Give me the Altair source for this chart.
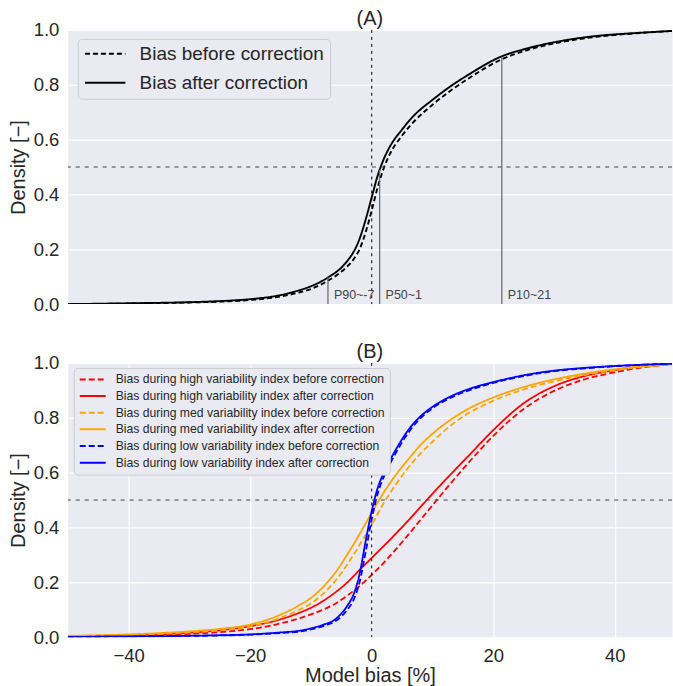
import altair as alt
import pandas as pd

FONT = "Liberation Sans"
TXT = "#262626"

# ---------------- Panel A data ----------------
BIAS_A = [-50, -40, -30, -25, -20, -15, -12, -10, -7, -5, -4, -3, -2, -1, 0,
          1, 2, 3, 5, 7, 10, 13, 16, 21, 26, 32, 37, 43, 50]
A_BEFORE = [0.0, 0.002, 0.006, 0.009, 0.015, 0.028, 0.042, 0.055, 0.088, 0.118,
            0.138, 0.163, 0.2, 0.262, 0.342, 0.428, 0.497, 0.548, 0.615, 0.667, 0.727,
            0.779, 0.824, 0.889, 0.929, 0.959, 0.975, 0.987, 0.997]
A_AFTER = [0.0, 0.003, 0.007, 0.011, 0.018, 0.033, 0.05, 0.065, 0.1, 0.133,
           0.158, 0.19, 0.238, 0.308, 0.39, 0.47, 0.53, 0.575, 0.637, 0.689, 0.745,
           0.795, 0.838, 0.9, 0.935, 0.963, 0.978, 0.988, 0.997]
A_SERIES = ["Bias before correction", "Bias after correction"]

P_LABELS = ["P90~-7", "P50~1", "P10~21"]
P_X = [-7.2, 1.3, 21.4]
P_TOP = [0.1, 0.49, 0.9]
P_TEXT_Y = [0.035, 0.035, 0.035]

# ---------------- Panel B data ----------------
BIAS_B = [-50, -40, -30, -25, -20, -15, -12, -10, -8, -6, -4, -3, -2, -1, 0,
          1, 2, 3, 4, 6, 8, 10, 13, 16, 20, 25, 30, 35, 40, 45, 50]
HIGH_BEFORE = [0.002, 0.005, 0.012, 0.018, 0.029, 0.05, 0.068, 0.083, 0.1, 0.122,
               0.152, 0.168, 0.186, 0.206, 0.227, 0.249, 0.272, 0.296, 0.321, 0.373,
               0.427, 0.481, 0.561, 0.638, 0.734, 0.832, 0.898, 0.94, 0.966, 0.985, 0.996]
HIGH_AFTER = [0.003, 0.007, 0.016, 0.025, 0.04, 0.065, 0.088, 0.107, 0.132, 0.163,
              0.2, 0.222, 0.245, 0.267, 0.289, 0.311, 0.333, 0.355, 0.378, 0.425,
              0.474, 0.523, 0.594, 0.663, 0.755, 0.853, 0.915, 0.952, 0.974, 0.989, 0.997]
MED_BEFORE = [0.004, 0.008, 0.017, 0.025, 0.039, 0.07, 0.099, 0.123, 0.158, 0.205,
              0.266, 0.3, 0.336, 0.373, 0.41, 0.45, 0.49, 0.525, 0.558, 0.618,
              0.669, 0.713, 0.772, 0.818, 0.862, 0.903, 0.933, 0.956, 0.974, 0.987, 0.995]
MED_AFTER = [0.005, 0.01, 0.021, 0.03, 0.046, 0.082, 0.115, 0.143, 0.183, 0.235,
             0.302, 0.338, 0.376, 0.415, 0.454, 0.492, 0.528, 0.562, 0.593, 0.648,
             0.7, 0.742, 0.793, 0.834, 0.874, 0.912, 0.94, 0.961, 0.977, 0.989, 0.996]
LOW_BEFORE = [0.001, 0.002, 0.004, 0.006, 0.009, 0.015, 0.02, 0.028, 0.04, 0.058,
              0.1, 0.135, 0.2, 0.31, 0.43, 0.525, 0.585, 0.632, 0.673, 0.745,
              0.798, 0.835, 0.873, 0.9, 0.927, 0.952, 0.97, 0.98, 0.988, 0.994, 0.998]
LOW_AFTER = [0.001, 0.002, 0.005, 0.007, 0.01, 0.017, 0.023, 0.032, 0.045, 0.065,
             0.115, 0.155, 0.23, 0.35, 0.46, 0.545, 0.6, 0.645, 0.685, 0.755,
             0.805, 0.84, 0.878, 0.905, 0.93, 0.955, 0.972, 0.982, 0.989, 0.994, 0.998]
B_SERIES = [
    "Bias during high variability index before correction",
    "Bias during high variability index after correction",
    "Bias during med variability index before correction",
    "Bias during med variability index after correction",
    "Bias during low variability index before correction",
    "Bias during low variability index after correction",
]
B_COLORS = ["#FF0000", "#FF0000", "#FFA500", "#FFA500", "#0000FF", "#0000FF"]
B_VALUES = [HIGH_BEFORE, HIGH_AFTER, MED_BEFORE, MED_AFTER, LOW_BEFORE, LOW_AFTER]

X_TICKS = [-40, -20, 0, 20, 40]
Y_TICKS = [0.0, 0.2, 0.4, 0.6, 0.8, 1.0]
X_DOMAIN = [-50, 49.4]

# ---------------- tables ----------------
rows_a = []
for s, vals in zip(A_SERIES, [A_BEFORE, A_AFTER]):
    for b, d in zip(BIAS_A, vals):
        rows_a.append({"sa": s, "bias": b, "density": d})
df_a = pd.DataFrame(rows_a)

rows_b = []
for s, vals in zip(B_SERIES, B_VALUES):
    for b, d in zip(BIAS_B, vals):
        rows_b.append({"sb": s, "bias": b, "density": d})
df_b = pd.DataFrame(rows_b)

df_p = pd.DataFrame({"label": P_LABELS, "px": P_X, "top": P_TOP, "ty": P_TEXT_Y, "zero": [0, 0, 0]})
df_v = pd.DataFrame({"vx": [0]})
df_h = pd.DataFrame({"hy": [0.5]})

xscale = alt.Scale(domain=X_DOMAIN, nice=False, zero=False)
yscale = alt.Scale(domain=[0, 1], nice=False)

W, H = 606, 275


def yaxis():
    return alt.Axis(values=Y_TICKS, format=".1f", title="Density [−]", ticks=False, domain=False,
                    labelPadding=9, titlePadding=5)


def xaxis():
    return alt.Axis(values=X_TICKS, title="Model bias [%]", ticks=False, domain=False,
                    labelPadding=9, titlePadding=1)


# ---------------- Panel A ----------------
leg_a = alt.Legend(orient="none", legendX=10, legendY=9, title=None, symbolType="stroke",
                   symbolSize=1640, symbolStrokeWidth=2, labelFontSize=19, labelFont=FONT,
                   labelColor=TXT, fillColor="#EAEAF2", strokeColor="#CCCCCC", cornerRadius=4,
                   padding=6, rowPadding=10, labelOffset=13, clipHeight=18, labelLimit=400)

lines_a = alt.Chart(df_a).mark_line(strokeWidth=1.9, interpolate="monotone", clip=True).encode(
    x=alt.X("bias:Q", scale=xscale, axis=None),
    y=alt.Y("density:Q", scale=yscale, axis=yaxis()),
    color=alt.Color("sa:N", scale=alt.Scale(domain=A_SERIES, range=["black", "black"]),
                    legend=leg_a),
    strokeDash=alt.StrokeDash("sa:N", scale=alt.Scale(domain=A_SERIES, range=[[5, 3], [1, 0]]),
                              legend=leg_a),
)

vline_a = alt.Chart(df_v).mark_rule(color="black", strokeWidth=1, strokeDash=[3, 4]).encode(
    x=alt.X("vx:Q", scale=xscale, axis=None))
hline_a = alt.Chart(df_h).mark_rule(color="#444444", strokeWidth=1, strokeDash=[4, 5]).encode(
    y=alt.Y("hy:Q", scale=yscale, axis=yaxis()))
prules = alt.Chart(df_p).mark_rule(color="#666666", strokeWidth=1.2).encode(
    x=alt.X("px:Q", scale=xscale, axis=None), y=alt.Y("zero:Q", scale=yscale, axis=yaxis()),
    y2="top:Q")
ptext = alt.Chart(df_p).mark_text(align="left", baseline="middle", dx=6, font=FONT, fontSize=12.5,
                                  color="#444444").encode(
    x=alt.X("px:Q", scale=xscale, axis=None), y=alt.Y("ty:Q", scale=yscale, axis=yaxis()),
    text="label:N")

panel_a = alt.layer(lines_a, hline_a, vline_a, prules, ptext).properties(
    width=W, height=H, title=alt.TitleParams("(A)", font=FONT, fontSize=20, fontWeight="normal",
                                             color=TXT, offset=-8))

# ---------------- Panel B ----------------
leg_b = alt.Legend(orient="none", legendX=6, legendY=5, title=None, symbolType="stroke",
                   symbolSize=676, symbolStrokeWidth=2, labelFontSize=12.2, labelFont=FONT,
                   labelColor=TXT, fillColor="#EAEAF2", strokeColor="#CCCCCC", cornerRadius=4,
                   padding=5, rowPadding=3.7, labelOffset=9, clipHeight=13, labelLimit=400)

lines_b = alt.Chart(df_b).mark_line(strokeWidth=1.8, interpolate="monotone", clip=True).encode(
    x=alt.X("bias:Q", scale=xscale, axis=xaxis()),
    y=alt.Y("density:Q", scale=yscale, axis=yaxis()),
    color=alt.Color("sb:N", scale=alt.Scale(domain=B_SERIES, range=B_COLORS), legend=leg_b),
    strokeDash=alt.StrokeDash("sb:N", scale=alt.Scale(
        domain=B_SERIES, range=[[6, 3], [1, 0], [6, 3], [1, 0], [6, 3], [1, 0]]), legend=leg_b),
)
vline_b = alt.Chart(df_v).mark_rule(color="black", strokeWidth=1, strokeDash=[3, 4]).encode(
    x=alt.X("vx:Q", scale=xscale, axis=xaxis()))
hline_b = alt.Chart(df_h).mark_rule(color="#444444", strokeWidth=1, strokeDash=[4, 5]).encode(
    y=alt.Y("hy:Q", scale=yscale, axis=yaxis()))

panel_b = alt.layer(lines_b, hline_b, vline_b).properties(
    width=W, height=H, title=alt.TitleParams("(B)", font=FONT, fontSize=20, fontWeight="normal",
                                             color=TXT, offset=-8))

chart = alt.vconcat(panel_a, panel_b, spacing=27).resolve_scale(
    color="independent", strokeDash="independent"
).resolve_legend(
    color="independent", strokeDash="independent"
).properties(
    padding={"left": 7, "top": 7, "right": 0, "bottom": 0}, background="white"
).configure_view(fill="#EAEAF2", stroke="transparent").configure_axis(
    gridColor="white", gridWidth=1.2, labelFont=FONT, labelFontSize=18.5, labelColor=TXT,
    titleFont=FONT, titleFontSize=20, titleFontWeight="normal", titleColor=TXT
)

chart.save("out.html", embed_options={"renderer": "svg", "actions": False})
